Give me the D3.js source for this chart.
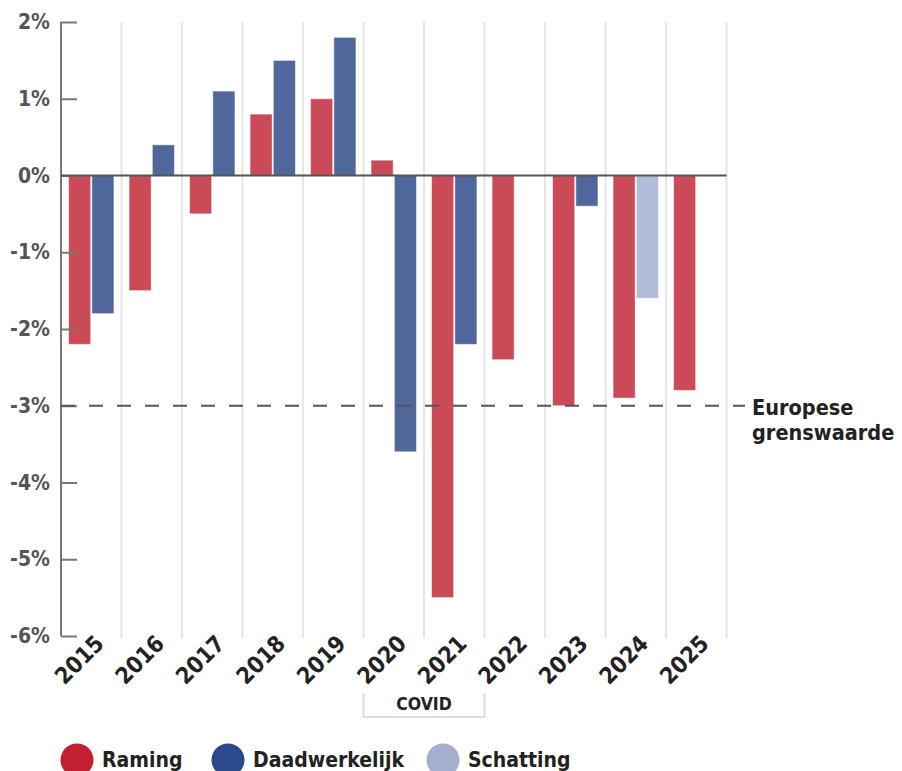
<!DOCTYPE html>
<html>
<head>
<meta charset="utf-8">
<script src="https://cdn.jsdelivr.net/npm/d3@7"></script>
<style>
  body { margin: 0; background: #fff; }
  text { font-family: "Liberation Sans Narrow", "DejaVu Sans Condensed", "Roboto", sans-serif; font-weight: bold; }
</style>
</head>
<body>
<div id="chart"></div>
<script>
// Data
const years = ['2015', '2016', '2017', '2018', '2019', '2020', '2021', '2022', '2023', '2024', '2025'];
const raming = [-2.2, -1.5, -0.5, 0.8, 1.0, 0.2, -5.5, -2.4, -3.0, -2.9, -2.8];
const daadwerkelijk = [-1.8, 0.4, 1.1, 1.5, 1.8, -3.6, -2.2, null, -0.4, null, null];
const schatting = [null, null, null, null, null, null, null, null, null, -1.6, null];
const yTicks = [2, 1, 0, -1, -2, -3, -4, -5, -6];
const euLimit = -3;
const legendItems = ['Raming', 'Daadwerkelijk', 'Schatting'];

// Layout
let
w = 902, h = 771,
plotL = 61, plotR = 726.5, plotT = 22, plotB = 636,
barRed = '#cb4a58', barBlue = '#50679b', barLight = '#b0bdd8',
legRed = '#c21f30', legBlue = '#2b4a8b', legLight = '#a3b0d0';

const svg = d3.select('#chart').append('svg')
  .attr('width', w).attr('height', h);

const x0 = d3.scaleBand().domain(years).range([plotL, plotR])
  .paddingInner(0.25).paddingOuter(0.125);
const x1 = d3.scaleBand().domain(['a', 'b']).range([0, x0.bandwidth()]).paddingInner(0.05);
const y = d3.scaleLinear().domain([-6, 2]).range([plotB, plotT]);
const step = x0.step();

// Vertical gridlines between the years
svg.append('g').selectAll('line')
  .data(years.map((d, i) => i + 1))
  .join('line')
  .attr('x1', i => plotL + i * step).attr('x2', i => plotL + i * step)
  .attr('y1', plotT).attr('y2', plotB + 2)
  .attr('stroke', '#e6e6e6').attr('stroke-width', 2);

// Bars
const rows = years.map((yr, i) => ({ yr, r: raming[i], d: daadwerkelijk[i], s: schatting[i] }));
const bars = [];
rows.forEach(d => {
  bars.push({ yr: d.yr, slot: 'a', v: d.r, c: barRed });
  if (d.d != null) bars.push({ yr: d.yr, slot: 'b', v: d.d, c: barBlue });
  if (d.s != null) bars.push({ yr: d.yr, slot: 'b', v: d.s, c: barLight });
});
svg.append('g').selectAll('rect')
  .data(bars)
  .join('rect')
  .attr('x', d => x0(d.yr) + x1(d.slot))
  .attr('width', x1.bandwidth())
  .attr('y', d => y(Math.max(0, d.v)))
  .attr('height', d => Math.abs(y(d.v) - y(0)))
  .attr('fill', d => d.c)
  .attr('stroke', 'rgba(255,255,255,0.5)').attr('stroke-width', 1);

// Y axis with inward ticks
const yAxis = d3.axisRight(y).tickValues(yTicks).tickSize(16).tickFormat('');
const ga = svg.append('g').attr('transform', 'translate(' + plotL + ',0)').call(yAxis);
ga.select('.domain').remove();
ga.selectAll('.tick line').attr('stroke', '#777').attr('stroke-width', 2);
svg.append('line')
  .attr('x1', plotL).attr('x2', plotL).attr('y1', plotT).attr('y2', plotB)
  .attr('stroke', '#777').attr('stroke-width', 2);
svg.append('g').selectAll('text')
  .data(yTicks)
  .join('text')
  .attr('x', 50).attr('y', d => y(d) + 7)
  .attr('text-anchor', 'end')
  .attr('fill', '#555').attr('font-size', 21)
  .text(d => d + '%');

// Zero line
svg.append('line')
  .attr('x1', plotL).attr('x2', plotR).attr('y1', y(0)).attr('y2', y(0))
  .attr('stroke', '#555').attr('stroke-width', 2);

// European limit
svg.append('line')
  .attr('x1', plotL).attr('x2', 745).attr('y1', y(euLimit)).attr('y2', y(euLimit))
  .attr('stroke', '#555').attr('stroke-width', 2).attr('stroke-dasharray', '14,14');
svg.append('text')
  .attr('x', 752).attr('y', y(euLimit) + 9)
  .attr('fill', '#222').attr('font-size', 21.5)
  .selectAll('tspan')
  .data(['Europese', 'grenswaarde'])
  .join('tspan')
  .attr('x', 752).attr('dy', (d, i) => i ? 25 : 0)
  .text(d => d);

// X labels, rotated
svg.append('g').selectAll('text')
  .data(years)
  .join('text')
  .attr('transform', d => 'translate(' + (x0(d) + x0.bandwidth() / 2 + 14) + ',' + (plotB + 9) + ') rotate(-45)')
  .attr('text-anchor', 'end')
  .attr('fill', '#222').attr('font-size', 23)
  .text(d => d);

// COVID bracket
const cx0 = plotL + 5 * step, cx1 = plotL + 7 * step;
svg.append('path')
  .attr('d', 'M' + cx0 + ',693 V717 H' + cx1 + ' V693')
  .attr('fill', 'none').attr('stroke', '#ddd').attr('stroke-width', 2);
svg.append('text')
  .attr('x', (cx0 + cx1) / 2).attr('y', 710)
  .attr('text-anchor', 'middle')
  .attr('fill', '#222').attr('font-size', 17.5)
  .text('COVID');

// Legend
const legX = [77, 228, 443];
const legC = [legRed, legBlue, legLight];
const leg = svg.append('g').selectAll('g')
  .data(legendItems)
  .join('g')
  .attr('transform', (d, i) => 'translate(' + legX[i] + ',760)');
leg.append('circle').attr('r', 16.5).attr('fill', (d, i) => legC[i]);
leg.append('text')
  .attr('x', 25).attr('y', 7)
  .attr('fill', '#222').attr('font-size', 21)
  .text(d => d);
</script>
</body>
</html>
